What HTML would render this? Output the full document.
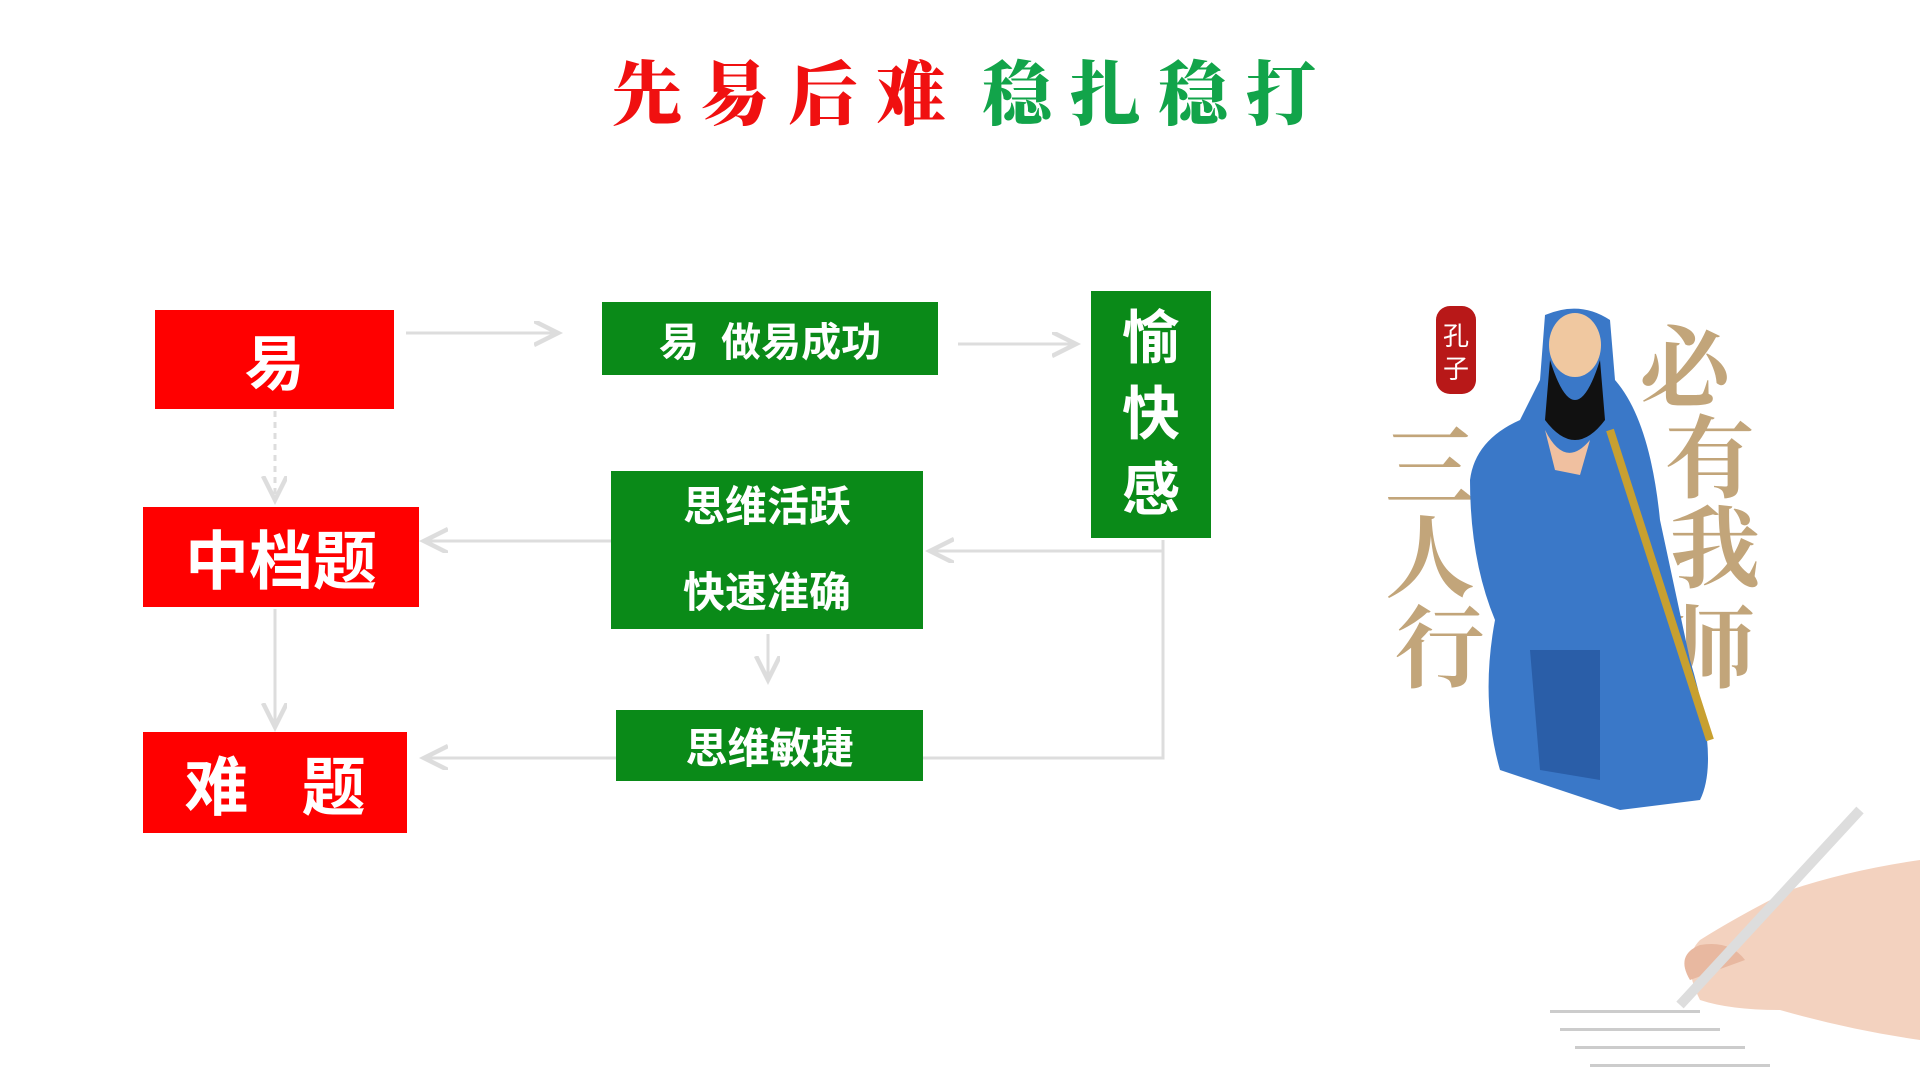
<!DOCTYPE html>
<html><head><meta charset="utf-8"><style>
body{margin:0;width:1920px;height:1080px;background:#fff;position:relative;overflow:hidden;font-family:"Liberation Sans","Noto Sans CJK SC",sans-serif}
.b{position:absolute;color:#fff;display:flex;align-items:center;justify-content:center;font-weight:bold}
.r{background:#ff0000}.g{background:#0a8a18}
.t{position:absolute;top:50px;font-family:"Noto Serif CJK SC","WenQuanYi Zen Hei",serif;font-weight:900;font-size:70px;letter-spacing:18px;line-height:80px}
</style></head><body>
<div class="t" style="left:612px;color:#f01010">先易后难</div>
<div class="t" style="left:982px;color:#12a44a">稳扎稳打</div>

<svg width="1920" height="1080" style="position:absolute;left:0;top:0">
<defs><marker id="a" markerWidth="10" markerHeight="10" refX="8" refY="4" orient="auto"><path d="M0,0 L8,4 L0,8" fill="none" stroke="#ddd" stroke-width="1.5"/></marker></defs>
<g stroke="#ddd" stroke-width="3" fill="none">
<line x1="406" y1="333" x2="558" y2="333" marker-end="url(#a)"/>
<line x1="958" y1="344" x2="1076" y2="344" marker-end="url(#a)"/>
<polyline points="1163,540 1163,758 923,758"/>
<line x1="1163" y1="551" x2="930" y2="551" marker-end="url(#a)"/>
<line x1="611" y1="541" x2="424" y2="541" marker-end="url(#a)"/>
<line x1="768" y1="634" x2="768" y2="680" marker-end="url(#a)"/>
<line x1="616" y1="758" x2="424" y2="758" marker-end="url(#a)"/>
<line x1="275" y1="411" x2="275" y2="500" stroke-dasharray="6,5" marker-end="url(#a)"/>
<line x1="275" y1="609" x2="275" y2="727" marker-end="url(#a)"/>
</g>
</svg>

<div class="b r" style="left:155px;top:310px;width:239px;height:99px;font-size:60px">易</div>
<div class="b r" style="left:143px;top:507px;width:276px;height:100px;font-size:64px">中档题</div>
<div class="b r" style="left:143px;top:732px;width:264px;height:101px;font-size:64px;word-spacing:0">难&nbsp;&nbsp;&nbsp;题</div>
<div class="b g" style="left:602px;top:302px;width:336px;height:73px;font-size:40px">易&nbsp;&nbsp;做易成功</div>
<div class="b g" style="left:1091px;top:291px;width:120px;height:247px;font-size:58px;line-height:76px;text-align:center">愉<br>快<br>感</div>
<div class="b g" style="left:611px;top:471px;width:312px;height:158px;font-size:42px;line-height:86px;text-align:center">思维活跃<br>快速准确</div>
<div class="b g" style="left:616px;top:710px;width:307px;height:71px;font-size:42px">思维敏捷</div>

<svg width="1920" height="1080" style="position:absolute;left:0;top:0">
<rect x="1436" y="306" width="40" height="88" rx="14" fill="#b81818"/>
<text x="1456" y="345" font-size="26" fill="#fff" text-anchor="middle" font-family="Noto Sans CJK SC">孔</text>
<text x="1456" y="378" font-size="26" fill="#fff" text-anchor="middle" font-family="Noto Sans CJK SC">子</text>
<g fill="#c2a57a" font-family="Noto Serif CJK SC,serif" font-size="90" font-weight="bold">
<text x="1385" y="500">三</text><text x="1385" y="590">人</text><text x="1395" y="680">行</text>
<text x="1640" y="400">必</text><text x="1665" y="490">有</text><text x="1670" y="580">我</text><text x="1665" y="680">师</text>
</g>
<path d="M1545,315 Q1580,300 1610,320 L1615,380 Q1650,420 1660,520 L1690,660 Q1720,760 1700,800 L1620,810 L1560,790 L1500,770 Q1480,700 1495,620 Q1470,560 1470,480 Q1475,440 1520,420 L1540,380 Z" fill="#3a78c8"/>
<path d="M1530,650 L1600,650 L1600,780 L1540,770 Z" fill="#2a5ea8"/>
<ellipse cx="1575" cy="345" rx="26" ry="32" fill="#f0c8a0"/>
<path d="M1550,360 Q1575,440 1600,360 L1605,420 Q1575,460 1545,420 Z" fill="#111"/>
<path d="M1545,430 Q1565,470 1590,440 L1580,475 L1555,470 Z" fill="#f0c0a0"/>
<line x1="1610" y1="430" x2="1710" y2="740" stroke="#c8a030" stroke-width="8"/>
<g fill="#ccc"><rect x="1550" y="1010" width="150" height="3"/><rect x="1560" y="1028" width="160" height="3"/><rect x="1575" y="1046" width="170" height="3"/><rect x="1590" y="1064" width="180" height="3"/></g>
<path d="M1700,1000 Q1680,960 1700,940 Q1740,915 1790,890 Q1850,870 1920,860 L1920,1040 Q1850,1030 1780,1010 Q1730,1010 1700,1000 Z" fill="#f3d2bf"/>
<path d="M1690,980 Q1675,955 1700,945 Q1730,940 1745,960 Z" fill="#e8b8a0"/>
<line x1="1680" y1="1005" x2="1860" y2="810" stroke="#ddd" stroke-width="10"/>
</svg>
</body></html>
